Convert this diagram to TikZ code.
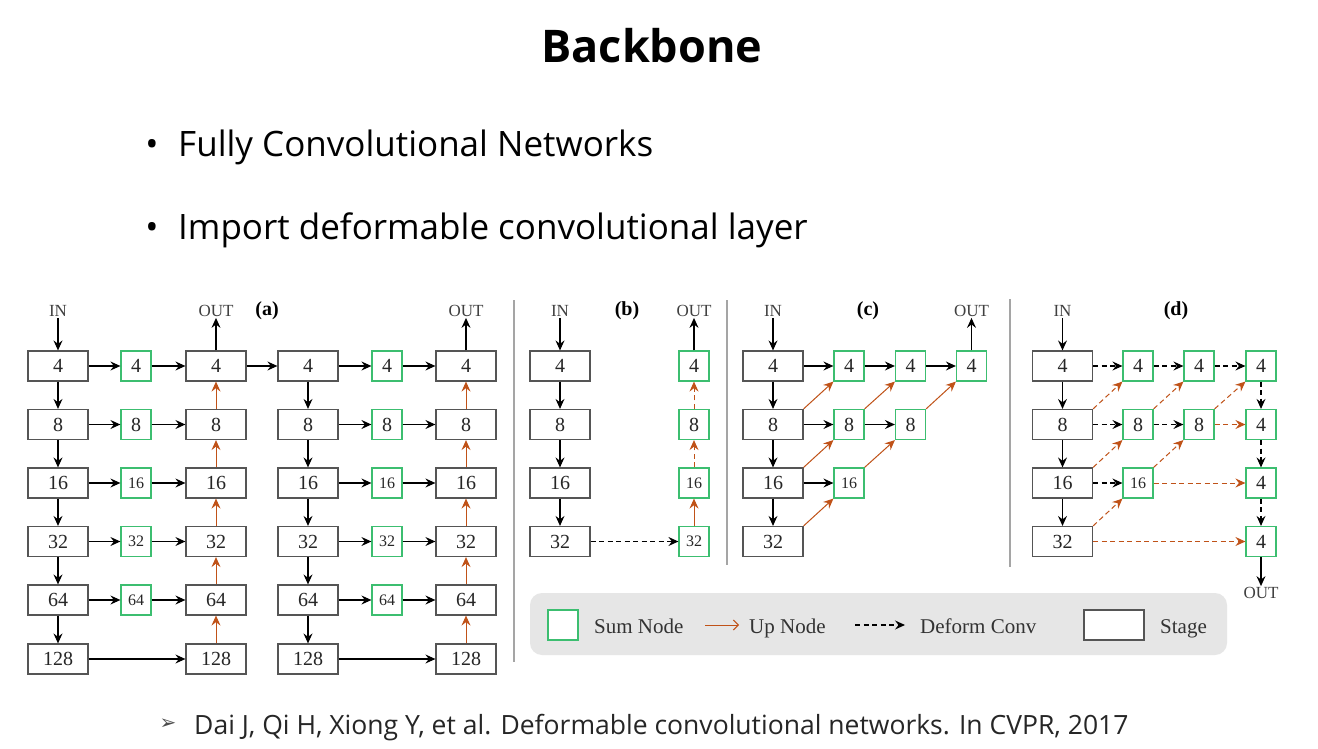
\documentclass[tikz,border=0pt]{standalone}
\usepackage{fontspec}
\setmainfont{Liberation Serif}
\newfontfamily\slidefont{Open Sans}
\newfontfamily\symfont{DejaVu Sans}
\usetikzlibrary{arrows.meta}
\definecolor{sumgreen}{RGB}{60,190,112}
\definecolor{uporange}{RGB}{192,82,24}
\definecolor{stagegray}{RGB}{85,85,85}
\definecolor{sepgray}{RGB}{165,165,165}
\definecolor{legendgray}{RGB}{230,230,230}
\tikzset{
  stagebox/.style={draw=stagegray, line width=1.2pt, fill=white, minimum width=60pt, minimum height=30pt, inner sep=0pt, font=\fontsize{20}{20}\selectfont, text=black!85},
  sumbox/.style={draw=sumgreen, line width=1.2pt, fill=white, minimum width=30pt, minimum height=30pt, inner sep=0pt, font=\fontsize{20}{20}\selectfont, text=black!85},
  sumsmall/.style={sumbox, font=\fontsize{16}{16}\selectfont},
  lbl/.style={font=\fontsize{17}{17}\selectfont, text=black!75, inner sep=1pt},
  panel/.style={font=\bfseries\fontsize{20}{20}\selectfont, inner sep=0pt},
  arr/.style={-{Stealth[length=10pt,width=9pt,inset=3.5pt]}, line width=1.1pt, draw=black},
  up/.style={arr, draw=uporange, line width=1pt, color=uporange},
  dconv/.style={arr, dash pattern=on 5pt off 3.5pt},
  updash/.style={up, dash pattern=on 5pt off 3.5pt},
  sep/.style={draw=sepgray, line width=1.4pt},
  legtext/.style={font=\fontsize{21}{21}\selectfont, text=black!80, anchor=base west, inner sep=0pt},
  slidetext/.style={font=\slidefont\fontsize{35}{35}\selectfont, inner sep=0pt},
}
\begin{document}
\begin{tikzpicture}[x=1pt,y=-1pt]
\useasboundingbox[fill=white] (0,0) rectangle (1318,749);

% slide texts
\node[font=\slidefont\bfseries\fontsize{45}{45}\selectfont, anchor=base, inner sep=0pt] (title) at (652,63) {Backbone};
\node[slidetext, anchor=base] (b1) at (152,157) {•};
\node[slidetext, anchor=base west] (t1) at (178,157) {Fully Convolutional Networks};
\node[slidetext, anchor=base] (b2) at (152,239) {•};
\node[slidetext, anchor=base west] (t2) at (178,239) {Import deformable convolutional layer};
\node[font=\symfont\fontsize{20}{20}\selectfont, text=black!70] (rb) at (168,724) {➢};
\node[font=\slidefont\fontsize{26.5}{26.5}\selectfont, anchor=base west, inner sep=0pt, text=black!85] (ref) at (194,734) {Dai J, Qi H, Xiong Y, et al. Deformable convolutional networks. In CVPR, 2017};

% separators
\draw[sep] (514,300) -- (514,662);
\draw[sep] (727,300) -- (727,565);
\draw[sep] (1010,299) -- (1010,567);

% ---------------- panel (a)
\foreach \g/\xs/\xm/\xr in {1/58/136/216, 2/308/387/466} {
  \foreach \v/\y in {4/366, 8/424.5, 16/483, 32/541.5, 64/600, 128/659} {
    \node[stagebox] (a\g s\v) at (\xs,\y) {\v};
    \node[stagebox] (a\g r\v) at (\xr,\y) {\v};
  }
  \foreach \v/\y in {4/366, 8/424.5} \node[sumbox] (a\g m\v) at (\xm,\y) {\v};
  \foreach \v/\y in {16/483, 32/541.5, 64/600} \node[sumsmall] (a\g m\v) at (\xm,\y) {\v};
  \foreach \p/\q in {4/8, 8/16, 16/32, 32/64, 64/128} {
    \draw[arr] (a\g s\p) -- (a\g s\q);
    \draw[up] (a\g r\q) -- (a\g r\p);
  }
  \foreach \v in {4,8,16,32,64} {
    \draw[arr] (a\g s\v) -- (a\g m\v);
    \draw[arr] (a\g m\v) -- (a\g r\v);
  }
  \draw[arr] (a\g s128) -- (a\g r128);
  \node[lbl] (a\g out) at (\xr,311) {OUT};
  \draw[arr] (a\g r4) -- (a\g out);
}
\node[lbl] (ain) at (58,311) {IN};
\draw[arr] (ain) -- (a1s4);
\draw[arr] (a1r4) -- (a2s4);
\node[panel] (pa) at (267,311) {(a)};

% ---------------- panel (b)
\foreach \v/\y in {4/366, 8/424.5, 16/483, 32/541.5} {
  \node[stagebox] (bs\v) at (560,\y) {\v};
}
\node[sumbox] (bm4) at (694,366) {4};
\node[sumbox] (bm8) at (694,424.5) {8};
\node[sumsmall] (bm16) at (694,483) {16};
\node[sumsmall] (bm32) at (694,541.5) {32};
\node[lbl] (bin) at (560,311) {IN};
\node[lbl] (bout) at (694,311) {OUT};
\node[panel] (pb) at (627,311) {(b)};
\draw[arr] (bin) -- (bs4);
\draw[arr] (bs4) -- (bs8);
\draw[arr] (bs8) -- (bs16);
\draw[arr] (bs16) -- (bs32);
\draw[dconv] (bs32) -- (bm32);
\draw[up] (bm32) -- (bm16);
\draw[updash] (bm16) -- (bm8);
\draw[updash] (bm8) -- (bm4);
\draw[arr] (bm4) -- (bout);

% ---------------- panel (c)
\foreach \v/\y in {4/366, 8/424.5, 16/483, 32/541.5} {
  \node[stagebox] (cs\v) at (773,\y) {\v};
}
\node[sumbox] (c1m4) at (849,366) {4};
\node[sumbox] (c2m4) at (910.5,366) {4};
\node[sumbox] (c3m4) at (971.5,366) {4};
\node[sumbox] (c1m8) at (849,424.5) {8};
\node[sumbox] (c2m8) at (910.5,424.5) {8};
\node[sumsmall] (c1m16) at (849,483) {16};
\node[lbl] (cin) at (773,311) {IN};
\node[lbl] (cout) at (971.5,311) {OUT};
\node[panel] (pc) at (868,311) {(c)};
\draw[arr] (cin) -- (cs4);
\draw[arr] (cs4) -- (cs8);
\draw[arr] (cs8) -- (cs16);
\draw[arr] (cs16) -- (cs32);
\draw[arr] (cs4) -- (c1m4);
\draw[arr] (c1m4) -- (c2m4);
\draw[arr] (c2m4) -- (c3m4);
\draw[arr] (cs8) -- (c1m8);
\draw[arr] (c1m8) -- (c2m8);
\draw[arr] (cs16) -- (c1m16);
\draw[up] (cs8.north east) -- (c1m4.south west);
\draw[up] (cs16.north east) -- (c1m8.south west);
\draw[up] (cs32.north east) -- (c1m16.south west);
\draw[up] (c1m8.north east) -- (c2m4.south west);
\draw[up] (c1m16.north east) -- (c2m8.south west);
\draw[up] (c2m8.north east) -- (c3m4.south west);
\draw[arr] (c3m4) -- (cout);

% ---------------- panel (d)
\foreach \v/\y in {4/366, 8/424.5, 16/483, 32/541.5} {
  \node[stagebox] (ds\v) at (1062.5,\y) {\v};
}
\node[sumbox] (d1m4) at (1138,366) {4};
\node[sumbox] (d2m4) at (1199,366) {4};
\node[sumbox] (d1m8) at (1138,424.5) {8};
\node[sumbox] (d2m8) at (1199,424.5) {8};
\node[sumsmall] (d1m16) at (1138,483) {16};
\node[sumbox] (d3r1) at (1261,366) {4};
\node[sumbox] (d3r2) at (1261,424.5) {4};
\node[sumbox] (d3r3) at (1261,483) {4};
\node[sumbox] (d3r4) at (1261,541.5) {4};
\node[lbl] (din) at (1062.5,311) {IN};
\node[lbl] (dout) at (1261,593) {OUT};
\node[panel] (pd) at (1176,311) {(d)};
\draw[arr] (din) -- (ds4);
\draw[arr] (ds4) -- (ds8);
\draw[arr] (ds8) -- (ds16);
\draw[arr] (ds16) -- (ds32);
\draw[dconv] (ds4) -- (d1m4);
\draw[dconv] (d1m4) -- (d2m4);
\draw[dconv] (d2m4) -- (d3r1);
\draw[dconv] (ds8) -- (d1m8);
\draw[dconv] (d1m8) -- (d2m8);
\draw[updash] (d2m8) -- (d3r2);
\draw[dconv] (ds16) -- (d1m16);
\draw[updash] (d1m16) -- (d3r3);
\draw[updash] (ds32) -- (d3r4);
\draw[updash] (ds8.north east) -- (d1m4.south west);
\draw[updash] (ds16.north east) -- (d1m8.south west);
\draw[updash] (ds32.north east) -- (d1m16.south west);
\draw[updash] (d1m8.north east) -- (d2m4.south west);
\draw[updash] (d1m16.north east) -- (d2m8.south west);
\draw[updash] (d2m8.north east) -- (d3r1.south west);
\draw[dconv] (d3r1) -- (d3r2);
\draw[dconv] (d3r2) -- (d3r3);
\draw[dconv] (d3r3) -- (d3r4);
\draw[arr] (d3r4) -- (dout);

% ---------------- legend
\node[fill=legendgray, rounded corners=12pt, minimum width=697pt, minimum height=62pt, inner sep=0pt] (legend) at (878.5,624) {};
\node[sumbox] (lsum) at (563,625) {};
\node[legtext] (lsumt) at (594,633) {Sum Node};
\coordinate (lu1) at (705,625);
\coordinate (lu2) at (739,625);
\draw[up, -{Straight Barb[length=5pt,width=10pt]}] (lu1) -- (lu2);
\node[legtext] (lupt) at (749,633) {Up Node};
\coordinate (ld1) at (855,625);
\coordinate (ld2) at (905,625);
\draw[dconv] (ld1) -- (ld2);
\node[legtext] (ldt) at (920,633) {Deform Conv};
\node[stagebox] (lstage) at (1114,625) {};
\node[legtext] (lst) at (1160,633) {Stage};
\end{tikzpicture}
\end{document}
